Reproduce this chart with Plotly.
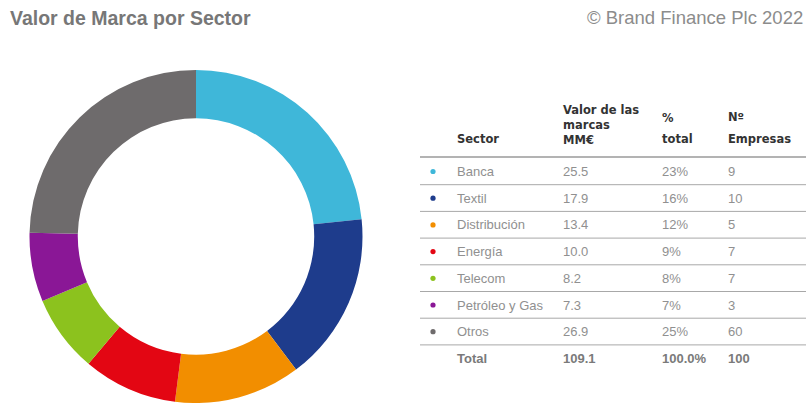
import plotly.graph_objects as go

# Brand value by sector (MM€), shares and number of companies
sectors = ["Banca", "Textil", "Distribución", "Energía", "Telecom", "Petróleo y Gas", "Otros"]
values = [25.5, 17.9, 13.4, 10.0, 8.2, 7.3, 26.9]
pct_labels = ["23%", "16%", "12%", "9%", "8%", "7%", "25%"]
companies = [9, 10, 5, 7, 7, 3, 60]
colors = ["#3fb7d9", "#1e3c8c", "#f28e00", "#e30613", "#8cc21e", "#8a1796", "#6e6b6c"]
total_row = ["Total", "109.1", "100.0%", "100"]

W, H = 809, 403


def px(x):
    return x / W


def py(y):
    return 1 - y / H


fig = go.Figure()

# Donut ring, starting at 12 o'clock and running clockwise
fig.add_trace(go.Pie(
    labels=sectors,
    values=values,
    marker=dict(colors=colors, line=dict(width=0)),
    hole=0.71,
    sort=False,
    direction="clockwise",
    rotation=0,
    textinfo="none",
    hoverinfo="label+value+percent",
    showlegend=False,
    domain=dict(x=[px(28), px(364)], y=[0, py(70)]),
))

annotations = []
shapes = []

FONT = "Liberation Sans, Arial, Helvetica, sans-serif"
HFONT = "DejaVu Sans, Verdana, sans-serif"


def add_text(x, y, text, size=13, color="#8a8a8a", bold=False, xanchor="left", family=FONT):
    annotations.append(dict(
        x=px(x), y=py(y), xref="paper", yref="paper",
        text=f"<b>{text}</b>" if bold else text,
        showarrow=False, xanchor=xanchor, yanchor="middle", align="left",
        font=dict(family=family, size=size, color=color),
    ))


# Title and source
add_text(8, 18, "Valor de Marca por Sector", size=19.5, color="#777777", bold=True)
add_text(805, 18, "© Brand Finance Plc 2022", size=18.5, color="#8c8c8c", xanchor="right")

# Table column positions
col_bullet, col_name, col_val, col_pct, col_cnt = 433, 455, 561, 660, 726
hdr_color = "#333333"
hs = 11.5

# Header
add_text(col_name, 139, "Sector", size=hs, color=hdr_color, bold=True, family=HFONT)
add_text(col_val, 125, "Valor de las<br>marcas<br>MM€", size=hs, color=hdr_color, bold=True, family=HFONT)
add_text(col_pct, 118, "%", size=hs, color=hdr_color, bold=True, family=HFONT)
add_text(col_pct, 139, "total", size=hs, color=hdr_color, bold=True, family=HFONT)
add_text(col_cnt, 117, "Nº", size=hs, color=hdr_color, bold=True, family=HFONT)
add_text(col_cnt, 139, "Empresas", size=hs, color=hdr_color, bold=True, family=HFONT)

line_x0, line_x1 = 420, 806
shapes.append(dict(type="line", xref="paper", yref="paper",
                   x0=px(line_x0), x1=px(line_x1), y0=py(157), y1=py(157),
                   line=dict(color="#9a9a9a", width=1.5)))

row_y0, row_step = 171.5, 26.7
for i, (name, val, pct, cnt, col) in enumerate(zip(sectors, values, pct_labels, companies, colors)):
    y = row_y0 + i * row_step
    r = 2.6
    shapes.append(dict(type="circle", xref="paper", yref="paper",
                       x0=px(col_bullet - r), x1=px(col_bullet + r),
                       y0=py(y + r), y1=py(y - r),
                       fillcolor=col, line=dict(width=0)))
    add_text(col_name, y, name, color="#909090")
    add_text(col_val, y, f"{val:.1f}", color="#909090")
    add_text(col_pct, y, pct, color="#909090")
    add_text(col_cnt, y, str(cnt), color="#909090")
    ly = y + 13.2
    shapes.append(dict(type="line", xref="paper", yref="paper",
                       x0=px(line_x0), x1=px(line_x1), y0=py(ly), y1=py(ly),
                       line=dict(color="#a8a8a8", width=1)))

ty = row_y0 + len(sectors) * row_step
for x, t in zip([col_name, col_val, col_pct, col_cnt], total_row):
    add_text(x, ty, t, size=13, color="#7a7a7a", bold=True)

fig.update_layout(
    width=W, height=H,
    margin=dict(l=0, r=0, t=0, b=0),
    paper_bgcolor="white",
    plot_bgcolor="white",
    annotations=annotations,
    shapes=shapes,
)

fig.write_html("out.html")
